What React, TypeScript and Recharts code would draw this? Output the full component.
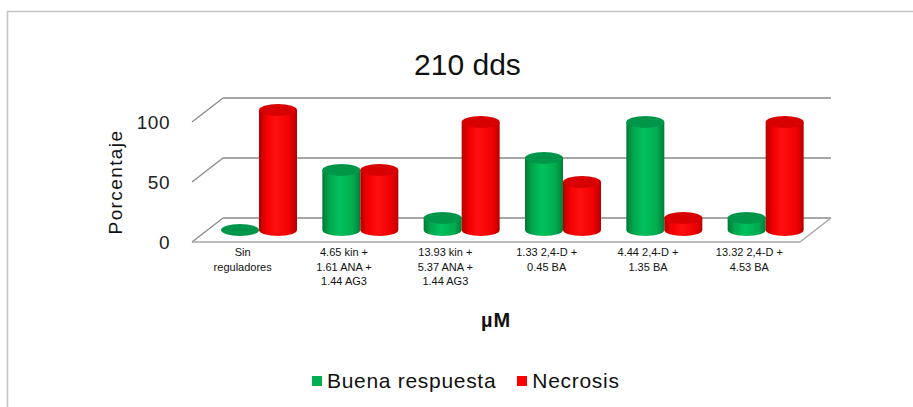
import React from 'react';
import { BarChart, Bar, XAxis, YAxis, CartesianGrid, Legend } from 'recharts';

const categories = [
  'Sin\nreguladores',
  '4.65 kin +\n1.61 ANA +\n1.44 AG3',
  '13.93 kin +\n5.37 ANA +\n1.44 AG3',
  '1.33 2,4-D +\n0.45 BA',
  '4.44 2,4-D +\n1.35 BA',
  '13.32 2,4-D +\n4.53 BA',
];
const buenaRespuesta = [0, 50, 10, 60, 90, 10];
const necrosis = [100, 50, 90, 40, 10, 90];
const yTicks = [0, 50, 100];

const data = categories.map((name, i) => ({
  name,
  buena: buenaRespuesta[i],
  necrosis: necrosis[i],
}));

const FONT = '"Liberation Sans", Arial, sans-serif';
const W = 913;
const H = 407;

// fake 3D: back wall is shifted by (DX, DY), cylinders sit about half way in
const DX = 31;
const DY = -24;
const BX = 16;
const BY = -12;
const RY = 6;

const GridLine3D = (p: any) => {
  const { x1, x2, y1 } = p;
  const isFloor = Math.abs(y1 - (p.y + p.height)) < 0.5;
  return (
    <g key={p.key}>
      <line x1={x1} y1={y1} x2={x1 + DX} y2={y1 + DY} stroke="#8a8a8a" strokeWidth={1.3} />
      <line x1={x1 + DX} y1={y1 + DY} x2={x2 + DX} y2={y1 + DY} stroke="#8a8a8a" strokeWidth={1.3} />
      {isFloor && (
        <>
          <line x1={x1} y1={y1} x2={x2} y2={y1} stroke="#a6a6a6" strokeWidth={1.5} />
          <line x1={x2} y1={y1} x2={x2 + DX} y2={y1 + DY} stroke="#a6a6a6" strokeWidth={1.5} />
        </>
      )}
    </g>
  );
};

const makeCylinder = (gradId: string, topColor: string) => (props: any) => {
  const { x, y, width, height } = props;
  const left = x + BX;
  const rx = width / 2;
  const cx = left + rx;
  const top = y + BY;
  const bottom = y + height + BY;
  if (!height || height < 1) {
    return <ellipse cx={cx} cy={bottom} rx={rx} ry={RY} fill={topColor} />;
  }
  return (
    <g>
      <path
        d={`M${left},${top} L${left},${bottom} A${rx},${RY} 0 0 0 ${left + width},${bottom} L${left + width},${top} Z`}
        fill={`url(#${gradId})`}
      />
      <ellipse cx={cx} cy={top} rx={rx} ry={RY} fill={topColor} />
    </g>
  );
};

const GreenCylinder = makeCylinder('gradGreen', '#00964a');
const RedCylinder = makeCylinder('gradRed', '#d80000');

const CategoryTick = (props: any) => {
  const { x, y, payload } = props;
  const lines = String(payload.value).split('\n');
  return (
    <g>
      {lines.map((ln, i) => (
        <text
          key={i}
          x={x}
          y={y + 6 + i * 14.5}
          textAnchor="middle"
          fontFamily={FONT}
          fontSize={11}
          fill="#111"
        >
          {ln}
        </text>
      ))}
    </g>
  );
};

const renderLegend = (props: any) => (
  <div style={{ display: 'flex', alignItems: 'center', fontFamily: FONT, fontSize: 21, letterSpacing: 0.7, color: '#111' }}>
    {(props.payload || []).map((e: any, i: number) => (
      <div key={i} style={{ display: 'flex', alignItems: 'center', marginRight: 21 }}>
        <span style={{ display: 'inline-block', width: 10, height: 10, background: e.color, marginRight: 5 }} />
        <span>{e.value}</span>
      </div>
    ))}
  </div>
);

export default function App() {
  return (
    <div style={{ position: 'absolute', left: 0, top: 0, width: W, height: H, background: '#fff' }}>
      <svg width={W} height={H} style={{ position: 'absolute', left: 0, top: 0 }}>
        <line x1={7} y1={11.5} x2={W} y2={11.5} stroke="#c4c4c4" strokeWidth={1.5} />
        <line x1={7.5} y1={11} x2={7.5} y2={H} stroke="#c4c4c4" strokeWidth={1.5} />
        <text x={467.5} y={75} textAnchor="middle" fontFamily={FONT} fontSize={30} fill="#111">
          210 dds
        </text>
      </svg>
      <div style={{ position: 'absolute', left: 0, top: 0 }}>
        <BarChart
          width={W}
          height={H}
          data={data}
          margin={{ top: 122, right: 113, left: 90, bottom: 70 }}
          barCategoryGap={13}
          barGap={0}
        >
          <defs>
            <linearGradient id="gradGreen" x1="0" y1="0" x2="1" y2="0">
              <stop offset="0" stopColor="#007a36" />
              <stop offset="0.18" stopColor="#00a64c" />
              <stop offset="0.45" stopColor="#00c25c" />
              <stop offset="0.8" stopColor="#00ac50" />
              <stop offset="1" stopColor="#007e38" />
            </linearGradient>
            <linearGradient id="gradRed" x1="0" y1="0" x2="1" y2="0">
              <stop offset="0" stopColor="#b40000" />
              <stop offset="0.2" stopColor="#f40000" />
              <stop offset="0.45" stopColor="#ff1010" />
              <stop offset="0.8" stopColor="#f00000" />
              <stop offset="1" stopColor="#b80000" />
            </linearGradient>
          </defs>
          <CartesianGrid vertical={false} horizontal={(p: any) => <GridLine3D {...p} />} />
          <XAxis
            dataKey="name"
            axisLine={false}
            tickLine={false}
            interval={0}
            height={95}
            tick={<CategoryTick />}
            label={{
              content: (lp: any) => {
                const vb = lp.viewBox;
                return (
                  <text
                    x={vb.x + vb.width / 2}
                    y={vb.y + 85}
                    textAnchor="middle"
                    fontFamily={FONT}
                    fontWeight="bold"
                    fontSize={20}
                    letterSpacing={1}
                    fill="#111"
                  >
                    µM
                  </text>
                );
              },
            }}
          />
          <YAxis
            domain={[0, 100]}
            ticks={yTicks}
            axisLine={false}
            tickLine={false}
            tickMargin={16}
            width={102}
            tick={{ fontFamily: FONT, fontSize: 19, fill: '#222', letterSpacing: 0.5 }}
            label={{
              content: (lp: any) => {
                const vb = lp.viewBox;
                const cx = vb.x + 25;
                const cy = vb.y + vb.height / 2;
                return (
                  <text
                    x={cx}
                    y={cy}
                    transform={`rotate(-90, ${cx}, ${cy})`}
                    textAnchor="middle"
                    dominantBaseline="central"
                    fontFamily={FONT}
                    fontSize={19}
                    letterSpacing={1.4}
                    fill="#111"
                  >
                    Porcentaje
                  </text>
                );
              },
            }}
          />
          <Legend
            verticalAlign="middle"
            align="center"
            layout="horizontal"
            wrapperStyle={{ top: 369, left: 312, width: 500 }}
            content={renderLegend}
          />
          <Bar dataKey="buena" name="Buena respuesta" fill="#00B050" shape={GreenCylinder} isAnimationActive={false} />
          <Bar dataKey="necrosis" name="Necrosis" fill="#FF0000" shape={RedCylinder} isAnimationActive={false} />
        </BarChart>
      </div>
    </div>
  );
}
